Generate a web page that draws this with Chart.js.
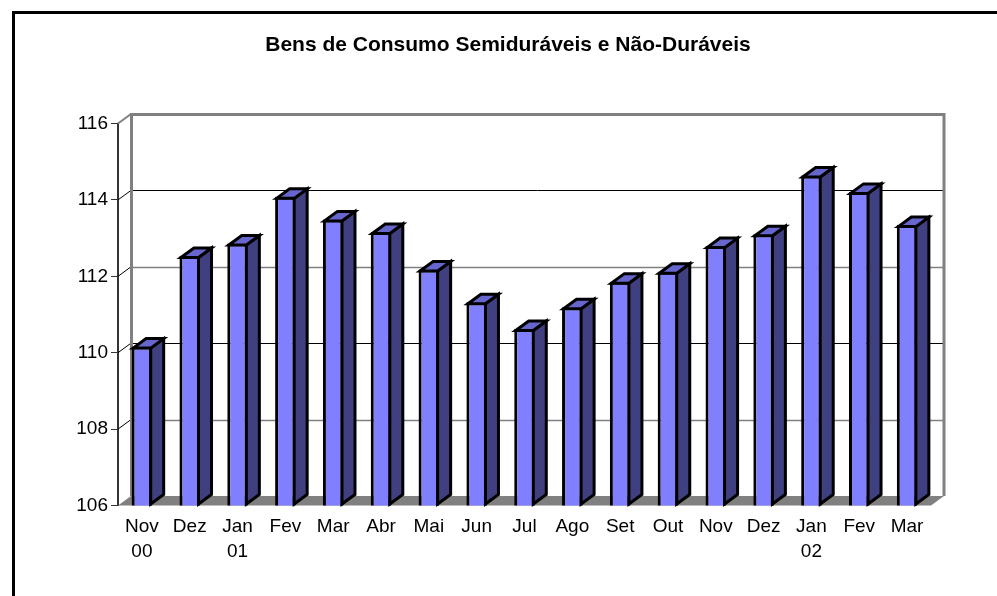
<!DOCTYPE html>
<html><head><meta charset="utf-8">
<script src="https://cdn.jsdelivr.net/npm/chart.js@4.4.0/dist/chart.umd.min.js"></script>
<style>html,body{margin:0;padding:0;background:#fff;overflow:hidden}</style>
</head><body>
<canvas id="c" width="997" height="596" style="display:block;width:997px;height:596px"></canvas>
<script>
const chartTitle = 'Bens de Consumo Semiduráveis e Não-Duráveis';
const months = ['Nov','Dez','Jan','Fev','Mar','Abr','Mai','Jun','Jul','Ago','Set','Out','Nov','Dez','Jan','Fev','Mar'];
const years  = ['00','','01','','','','','','','','','','','','02','',''];
const values = [110.16,112.53,112.86,114.08,113.49,113.16,112.18,111.32,110.62,111.19,111.86,112.12,112.79,113.10,114.64,114.21,113.34];
const yTicks = [106,108,110,112,114,116];

const labels = months.map((m, i) => years[i] ? [m, years[i]] : m);
const FONT = "'Liberation Sans', Arial, sans-serif";
const DX = 13, DY = 9.5;
const BW = 3;

const excel3d = {
  id: 'excel3d',
  beforeDraw(chart) {
    const ctx = chart.ctx;
    ctx.save();
    ctx.fillStyle = '#fff';
    ctx.fillRect(0, 0, chart.width, chart.height);
    ctx.strokeStyle = '#000';
    ctx.lineWidth = 3;
    ctx.beginPath();
    ctx.moveTo(13.5, chart.height + 2);
    ctx.lineTo(13.5, 12.5);
    ctx.lineTo(chart.width + 2, 12.5);
    ctx.stroke();
    ctx.restore();
  },
  beforeDatasetsDraw(chart) {
    const ctx = chart.ctx;
    const {left, right, top, bottom} = chart.chartArea;
    const ys = chart.scales.y;
    ctx.save();
    // floor
    ctx.fillStyle = '#808080';
    ctx.beginPath();
    ctx.moveTo(left, bottom);
    ctx.lineTo(right, bottom);
    ctx.lineTo(right + DX, bottom - DY);
    ctx.lineTo(left + DX, bottom - DY);
    ctx.closePath();
    ctx.fill();
    // back wall gridlines & side diagonals
    yTicks.forEach((v, i) => {
      if (v === yTicks[0] || v === yTicks[yTicks.length - 1]) return;
      const y = ys.getPixelForValue(v);
      const yb = Math.round(y - DY) + 0.5;
      ctx.strokeStyle = (i % 2 === 0) ? '#000' : '#808080';
      ctx.lineWidth = (i % 2 === 0) ? 1 : 1.5;
      ctx.beginPath();
      ctx.moveTo(left + DX, yb);
      ctx.lineTo(right + DX, yb);
      ctx.stroke();
      ctx.strokeStyle = '#000';
      ctx.lineWidth = 1;
      ctx.beginPath();
      ctx.moveTo(left, y);
      ctx.lineTo(left + DX, y - DY);
      ctx.stroke();
    });
    // wall frame
    ctx.strokeStyle = '#808080';
    ctx.lineWidth = 3;
    ctx.beginPath();
    ctx.moveTo(left + DX + 0.5, bottom - DY);
    ctx.lineTo(left + DX + 0.5, top - DY + 0.5);
    ctx.lineTo(right + DX, top - DY + 0.5);
    ctx.lineTo(right + DX, bottom - DY);
    ctx.stroke();
    ctx.lineWidth = 2;
    ctx.beginPath();
    ctx.moveTo(left, top);
    ctx.lineTo(left + DX, top - DY);
    ctx.stroke();
    ctx.restore();
  },
  afterDatasetsDraw(chart) {
    const ctx = chart.ctx;
    const meta = chart.getDatasetMeta(0);
    const bottom = chart.chartArea.bottom;
    const h = BW / 2;
    ctx.save();
    ctx.strokeStyle = '#000';
    ctx.lineWidth = BW;
    ctx.lineJoin = 'miter';
    meta.data.forEach(el => {
      const p = el.getProps(['x', 'y', 'width', 'base'], true);
      const xL = p.x - p.width / 2 + h, xR = p.x + p.width / 2 - h;
      const yT = p.y + h, yB = Math.min(p.base, bottom) - h;
      // side
      ctx.fillStyle = '#404080';
      ctx.beginPath();
      ctx.moveTo(xR, yT);
      ctx.lineTo(xR + DX, yT - DY);
      ctx.lineTo(xR + DX, yB - DY);
      ctx.lineTo(xR, yB);
      ctx.closePath();
      ctx.fill();
      ctx.stroke();
      // top
      ctx.fillStyle = '#6666CC';
      ctx.beginPath();
      ctx.moveTo(xL, yT);
      ctx.lineTo(xL + DX, yT - DY);
      ctx.lineTo(xR + DX, yT - DY);
      ctx.lineTo(xR, yT);
      ctx.closePath();
      ctx.fill();
      ctx.stroke();
    });
    ctx.restore();
  },
  afterDraw(chart) {
    const ctx = chart.ctx;
    ctx.save();
    ctx.fillStyle = '#000';
    ctx.font = "bold 21px " + FONT;
    ctx.textAlign = 'center';
    ctx.textBaseline = 'middle';
    ctx.fillText(chartTitle, 508, 45);
    ctx.restore();
  }
};

new Chart(document.getElementById('c'), {
  type: 'bar',
  data: {
    labels: labels,
    datasets: [{
      data: values,
      backgroundColor: '#8080FF',
      borderColor: '#000',
      borderWidth: BW,
      borderSkipped: false,
      barPercentage: 0.43,
      categoryPercentage: 1
    }]
  },
  options: {
    responsive: false,
    animation: false,
    devicePixelRatio: 1,
    layout: { padding: { top: 123.5, right: 66, bottom: 0, left: 0 } },
    plugins: { legend: { display: false }, title: { display: false }, tooltip: { enabled: false } },
    scales: {
      x: {
        grid: { display: false },
        border: { display: false },
        ticks: { color: '#000', font: { family: FONT, size: 19, lineHeight: 1.3 }, padding: 1, maxRotation: 0, autoSkip: false },
        afterFit: s => { s.height = 90.5; }
      },
      y: {
        min: 106, max: 116,
        afterBuildTicks: axis => { axis.ticks = yTicks.map(v => ({ value: v })); },
        ticks: { color: '#000', font: { family: FONT, size: 19 }, padding: 3 },
        grid: { drawOnChartArea: false, drawTicks: true, tickLength: 7, color: '#333', lineWidth: 1 },
        border: { display: true, color: '#333', width: 2 },
        afterFit: s => { s.width = 118; }
      }
    }
  },
  plugins: [excel3d]
});
</script>
</body></html>
